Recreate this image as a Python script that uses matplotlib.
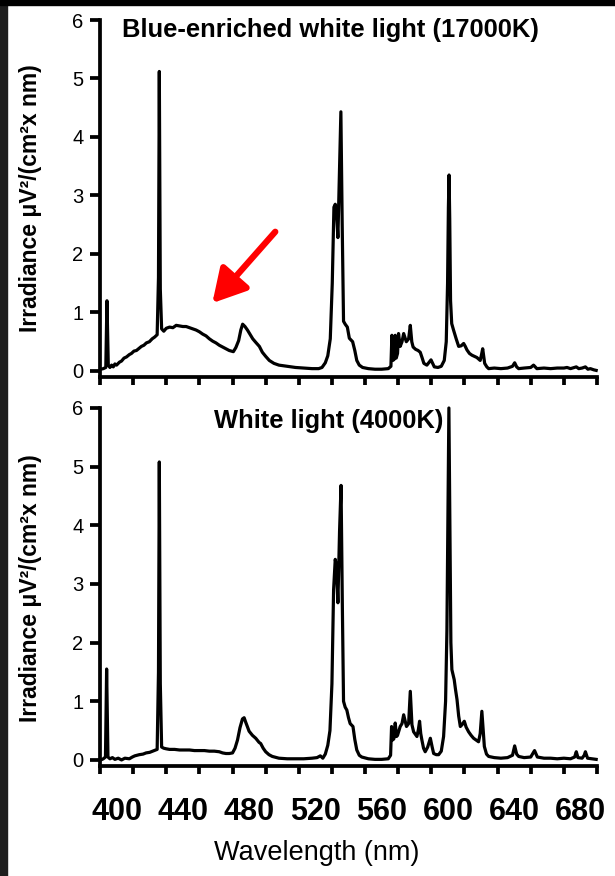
import numpy as np
import matplotlib
matplotlib.use('Agg')
import matplotlib.pyplot as plt
from matplotlib import font_manager
from matplotlib.patches import Rectangle

# spectra (wavelength nm, irradiance)
wl_blue = [390.5, 392, 393.5, 394.2, 395.0, 396, 397, 398, 399, 400, 401.7, 403, 404.5, 406, 407.7,
           409, 410.5, 412, 413.7, 415, 416.5, 418, 419.8, 421.5, 423, 424.5, 425.3, 425.8, 426.4,
           427.2, 428.5, 430, 432, 434, 436, 438, 440, 442, 444, 446, 448, 450, 452, 454, 456, 458,
           460, 462, 464, 466, 468, 470.5, 472, 473.7, 475, 476.1, 477.5, 479, 480.5, 482.2, 484,
           486.2, 488, 490, 492.2, 495, 498, 503, 508, 513, 518, 522, 524, 526, 527.5, 529, 530.2,
           531.2, 532, 532.6, 533.6, 534.6, 535.4, 536.2, 537, 538, 539.3, 540.5, 542.5, 543.8, 545,
           546.5, 548.5, 552, 556, 560, 564, 565.6, 566.2, 566.8, 567.6, 568.2, 568.8, 569.6, 570.2,
           571.2, 572.3, 573.3, 574.9, 576.3, 577.3, 578.2, 579, 580.5, 582, 583.3, 584.5, 585.5,
           587.3, 588.7, 589.8, 590.8, 591.8, 594, 596, 597.8, 599, 599.8, 600.3, 600.7, 601.1,
           601.6, 602.3, 603.4, 605, 606.5, 608, 609.5, 610.5, 611.5, 613, 614.5, 616, 617.5, 619.5,
           620.3, 621, 621.6, 622.2, 623.5, 624.6, 628, 632, 636, 639, 640.3, 641.5, 642.7, 646, 650,
           651.7, 653.7, 658, 662, 666, 670, 671.9, 674, 677.5, 679, 681, 683, 684.5, 686, 688, 689.5]
irr_blue = [0.03, 0.04, 0.06, 1.20, 0.10, 0.06, 0.10, 0.07, 0.12, 0.10, 0.15, 0.17, 0.22, 0.24, 0.28,
            0.30, 0.34, 0.35, 0.39, 0.42, 0.44, 0.48, 0.50, 0.55, 0.58, 0.62, 1.6, 5.12, 1.4,
            0.72, 0.68, 0.73, 0.75, 0.74, 0.78, 0.77, 0.76, 0.76, 0.74, 0.72, 0.70, 0.67, 0.63, 0.60,
            0.55, 0.51, 0.48, 0.44, 0.41, 0.38, 0.35, 0.33, 0.40, 0.52, 0.70, 0.80, 0.76, 0.70, 0.63,
            0.55, 0.49, 0.42, 0.32, 0.25, 0.18, 0.13, 0.10, 0.08, 0.06, 0.05, 0.04, 0.04, 0.06, 0.14,
            0.26, 0.55, 1.5, 2.80, 2.85, 2.78, 2.28, 3.5, 4.43, 2.5, 0.85, 0.80, 0.75, 0.56, 0.50,
            0.35, 0.18, 0.10, 0.06, 0.04, 0.03, 0.03, 0.04, 0.08, 0.61, 0.18, 0.20, 0.61, 0.22, 0.30,
            0.64, 0.42, 0.50, 0.64, 0.50, 0.55, 0.78, 0.50, 0.41, 0.37, 0.35, 0.32, 0.22, 0.13, 0.10,
            0.15, 0.19, 0.13, 0.07, 0.06, 0.08, 0.18, 0.50, 1.5, 2.8, 3.35, 2.6, 1.2, 0.81, 0.70,
            0.55, 0.42, 0.43, 0.47, 0.42, 0.36, 0.30, 0.27, 0.25, 0.23, 0.18, 0.28, 0.38, 0.25, 0.13,
            0.07, 0.04, 0.05, 0.04, 0.05, 0.08, 0.14, 0.07, 0.04, 0.05, 0.06, 0.10, 0.04, 0.05, 0.04,
            0.05, 0.05, 0.06, 0.04, 0.07, 0.04, 0.05, 0.07, 0.03, 0.04, 0.02, 0.01]

wl_white = [390.5, 392, 393.3, 394, 394.8, 396, 397.5, 399, 401, 403, 405, 407.7, 409.5, 411, 413.7,
            416, 417.8, 420, 422.8, 424.5, 425.3, 425.8, 426.4, 427.2, 428.5, 430, 432, 435, 438,
            441, 444, 447, 450, 453, 456, 459, 462, 464, 466, 468, 470, 471.5, 473, 474.5, 476, 477,
            478, 480, 482, 484, 486, 487, 488.5, 490, 492, 494, 498, 503, 508, 513, 518, 521, 523,
            524.5, 526, 527.5, 528.8, 530, 531, 532, 532.7, 533.6, 534.6, 535.5, 536.3, 537, 538,
            539, 540, 541, 542.7, 543.8, 545, 546.5, 548, 552, 556, 560, 564, 565.4, 566, 566.6,
            567.4, 568.2, 569, 569.6, 571.2, 572.3, 573.3, 575, 576.3, 577.3, 578.3, 579.3, 581.3,
            582.2, 582.9, 583.6, 584.3, 585.3, 586.3, 587.8, 589.4, 590.5, 591.4, 593, 594.4, 596,
            597.4, 598.6, 599.4, 600.1, 600.6, 601.2, 601.8, 602.4, 603.8, 604.6, 605.5, 606.5,
            607.5, 608.5, 609.9, 611, 612.5, 614, 615.5, 617, 618.5, 619.5, 620.5, 621.3, 622, 623.3,
            624.6, 628, 632, 636, 639, 640.3, 641.5, 642.7, 646, 650, 652.3, 654, 658, 662, 666, 670,
            674, 676.5, 677.5, 678.5, 681, 682.3, 683, 684.3, 687, 689.5]
irr_white = [0.00, 0.02, 0.05, 1.55, 0.05, 0.02, 0.04, 0.01, 0.03, 0.00, 0.03, 0.02, 0.05, 0.07, 0.09,
             0.10, 0.12, 0.13, 0.16, 0.18, 1.5, 5.08, 1.3, 0.22, 0.20, 0.19, 0.18, 0.18, 0.17,
             0.17, 0.17, 0.16, 0.16, 0.16, 0.15, 0.15, 0.14, 0.12, 0.11, 0.11, 0.12, 0.20, 0.34, 0.55,
             0.70, 0.72, 0.64, 0.49, 0.42, 0.37, 0.30, 0.28, 0.20, 0.14, 0.09, 0.06, 0.03, 0.02, 0.02,
             0.02, 0.03, 0.04, 0.07, 0.03, 0.10, 0.25, 0.50, 1.3, 2.9, 3.42, 3.3, 2.68, 3.9, 4.68,
             2.6, 1.0, 0.90, 0.85, 0.72, 0.62, 0.57, 0.35, 0.17, 0.08, 0.05, 0.02, 0.01, 0.01, 0.02,
             0.08, 0.57, 0.34, 0.36, 0.63, 0.40, 0.42, 0.57, 0.62, 0.77, 0.57, 0.62, 1.17, 0.60, 0.48,
             0.40, 0.52, 0.66, 0.45, 0.34, 0.20, 0.14, 0.22, 0.37, 0.22, 0.11, 0.09, 0.09, 0.15,
             0.40, 1.0, 2.2, 4.5, 6.0, 4.0, 2.0, 1.54, 1.37, 1.20, 1.03, 0.75, 0.57, 0.60, 0.66,
             0.56, 0.48, 0.42, 0.37, 0.34, 0.31, 0.45, 0.83, 0.50, 0.23, 0.10, 0.06, 0.04, 0.03,
             0.04, 0.08, 0.24, 0.10, 0.06, 0.04, 0.05, 0.16, 0.05, 0.03, 0.03, 0.02, 0.03, 0.02,
             0.05, 0.14, 0.04, 0.03, 0.08, 0.14, 0.03, 0.02, 0.01]

titles = ['Blue-enriched white light (17000K)', 'White light (4000K)']
x_labels = ['400', '440', '480', '520', '560', '600', '640', '680']
y_ticks = [0, 1, 2, 3, 4, 5, 6]

# narrow bold font for the x labels, if there is one
names = {f.name for f in font_manager.fontManager.ttflist}
narrow = 'Liberation Sans Narrow' if 'Liberation Sans Narrow' in names else 'Liberation Sans'
plt.rcParams['font.family'] = ['Liberation Sans', 'DejaVu Sans']

W, H = 615, 876
fig = plt.figure(figsize=(W / 100, H / 100), dpi=100)
fig.patch.set_facecolor('white')

ax1 = fig.add_axes([100 / W, 1 - 377 / H, 497 / W, 357 / H])
ax2 = fig.add_axes([100 / W, 1 - 766 / H, 497 / W, 358 / H])

for ax, wl, irr in [(ax1, wl_blue, irr_blue), (ax2, wl_white, irr_white)]:
    ax.plot(wl, irr, color='black', lw=2.3, clip_on=False, solid_joinstyle='round')
    ax.set_xlim(390, 690)
    ax.set_ylim(-0.103, 6)
    ax.spines['top'].set_visible(False)
    ax.spines['right'].set_visible(False)
    for s in ['left', 'bottom']:
        ax.spines[s].set_linewidth(2.7)
    ax.set_yticks(y_ticks)
    ax.set_xticks(np.arange(390, 691, 20))
    ax.set_xticklabels([])
    ax.tick_params(axis='y', direction='out', length=7, width=2.7, labelsize=14.5, pad=5)
    ax.tick_params(axis='x', which='major', direction='out', length=6, width=2.7)
    fig_y = 1 - (198 if ax is ax1 else 588) / H
    fig.text(31 / W, fig_y, 'Irradiance μV²/(cm²x nm)', rotation=90, ha='center', va='center',
             fontsize=16.5, fontweight='bold')

ax2.set_xticks(np.arange(400, 681, 40), minor=True)
ax2.set_xticklabels(x_labels, minor=True, fontfamily=narrow, fontweight='bold', fontsize=22)
ax2.tick_params(axis='x', which='minor', length=0, pad=22)

fig.text(122 / W, 1 - 30 / H, titles[0], ha='left', va='center', fontsize=18.4, fontweight='bold')
fig.text(329 / W, 1 - 421 / H, titles[1], ha='center', va='center', fontsize=18.4, fontweight='bold')
fig.text(317 / W, 1 - 853 / H, 'Wavelength (nm)', ha='center', va='center', fontsize=19.5,
         fontfamily=narrow)

# red arrow pointing at the blue hump
ax1.annotate('', xy=(457.8, 1.16), xytext=(495.8, 2.38),
             arrowprops=dict(arrowstyle='-|>,head_length=0.5,head_width=0.28', color='#ff0000',
                             lw=4.5, mutation_scale=40, shrinkA=0, shrinkB=0))

# dark frame left over from the screenshot
fig.patches.append(Rectangle((0, 0), 7 / W, 1, transform=fig.transFigure, color='#1e1e1e', zorder=0))
fig.patches.append(Rectangle((0, 1 - 5 / H), 1, 5 / H, transform=fig.transFigure, color='black', zorder=0))

fig.savefig('out.png', dpi=100)
